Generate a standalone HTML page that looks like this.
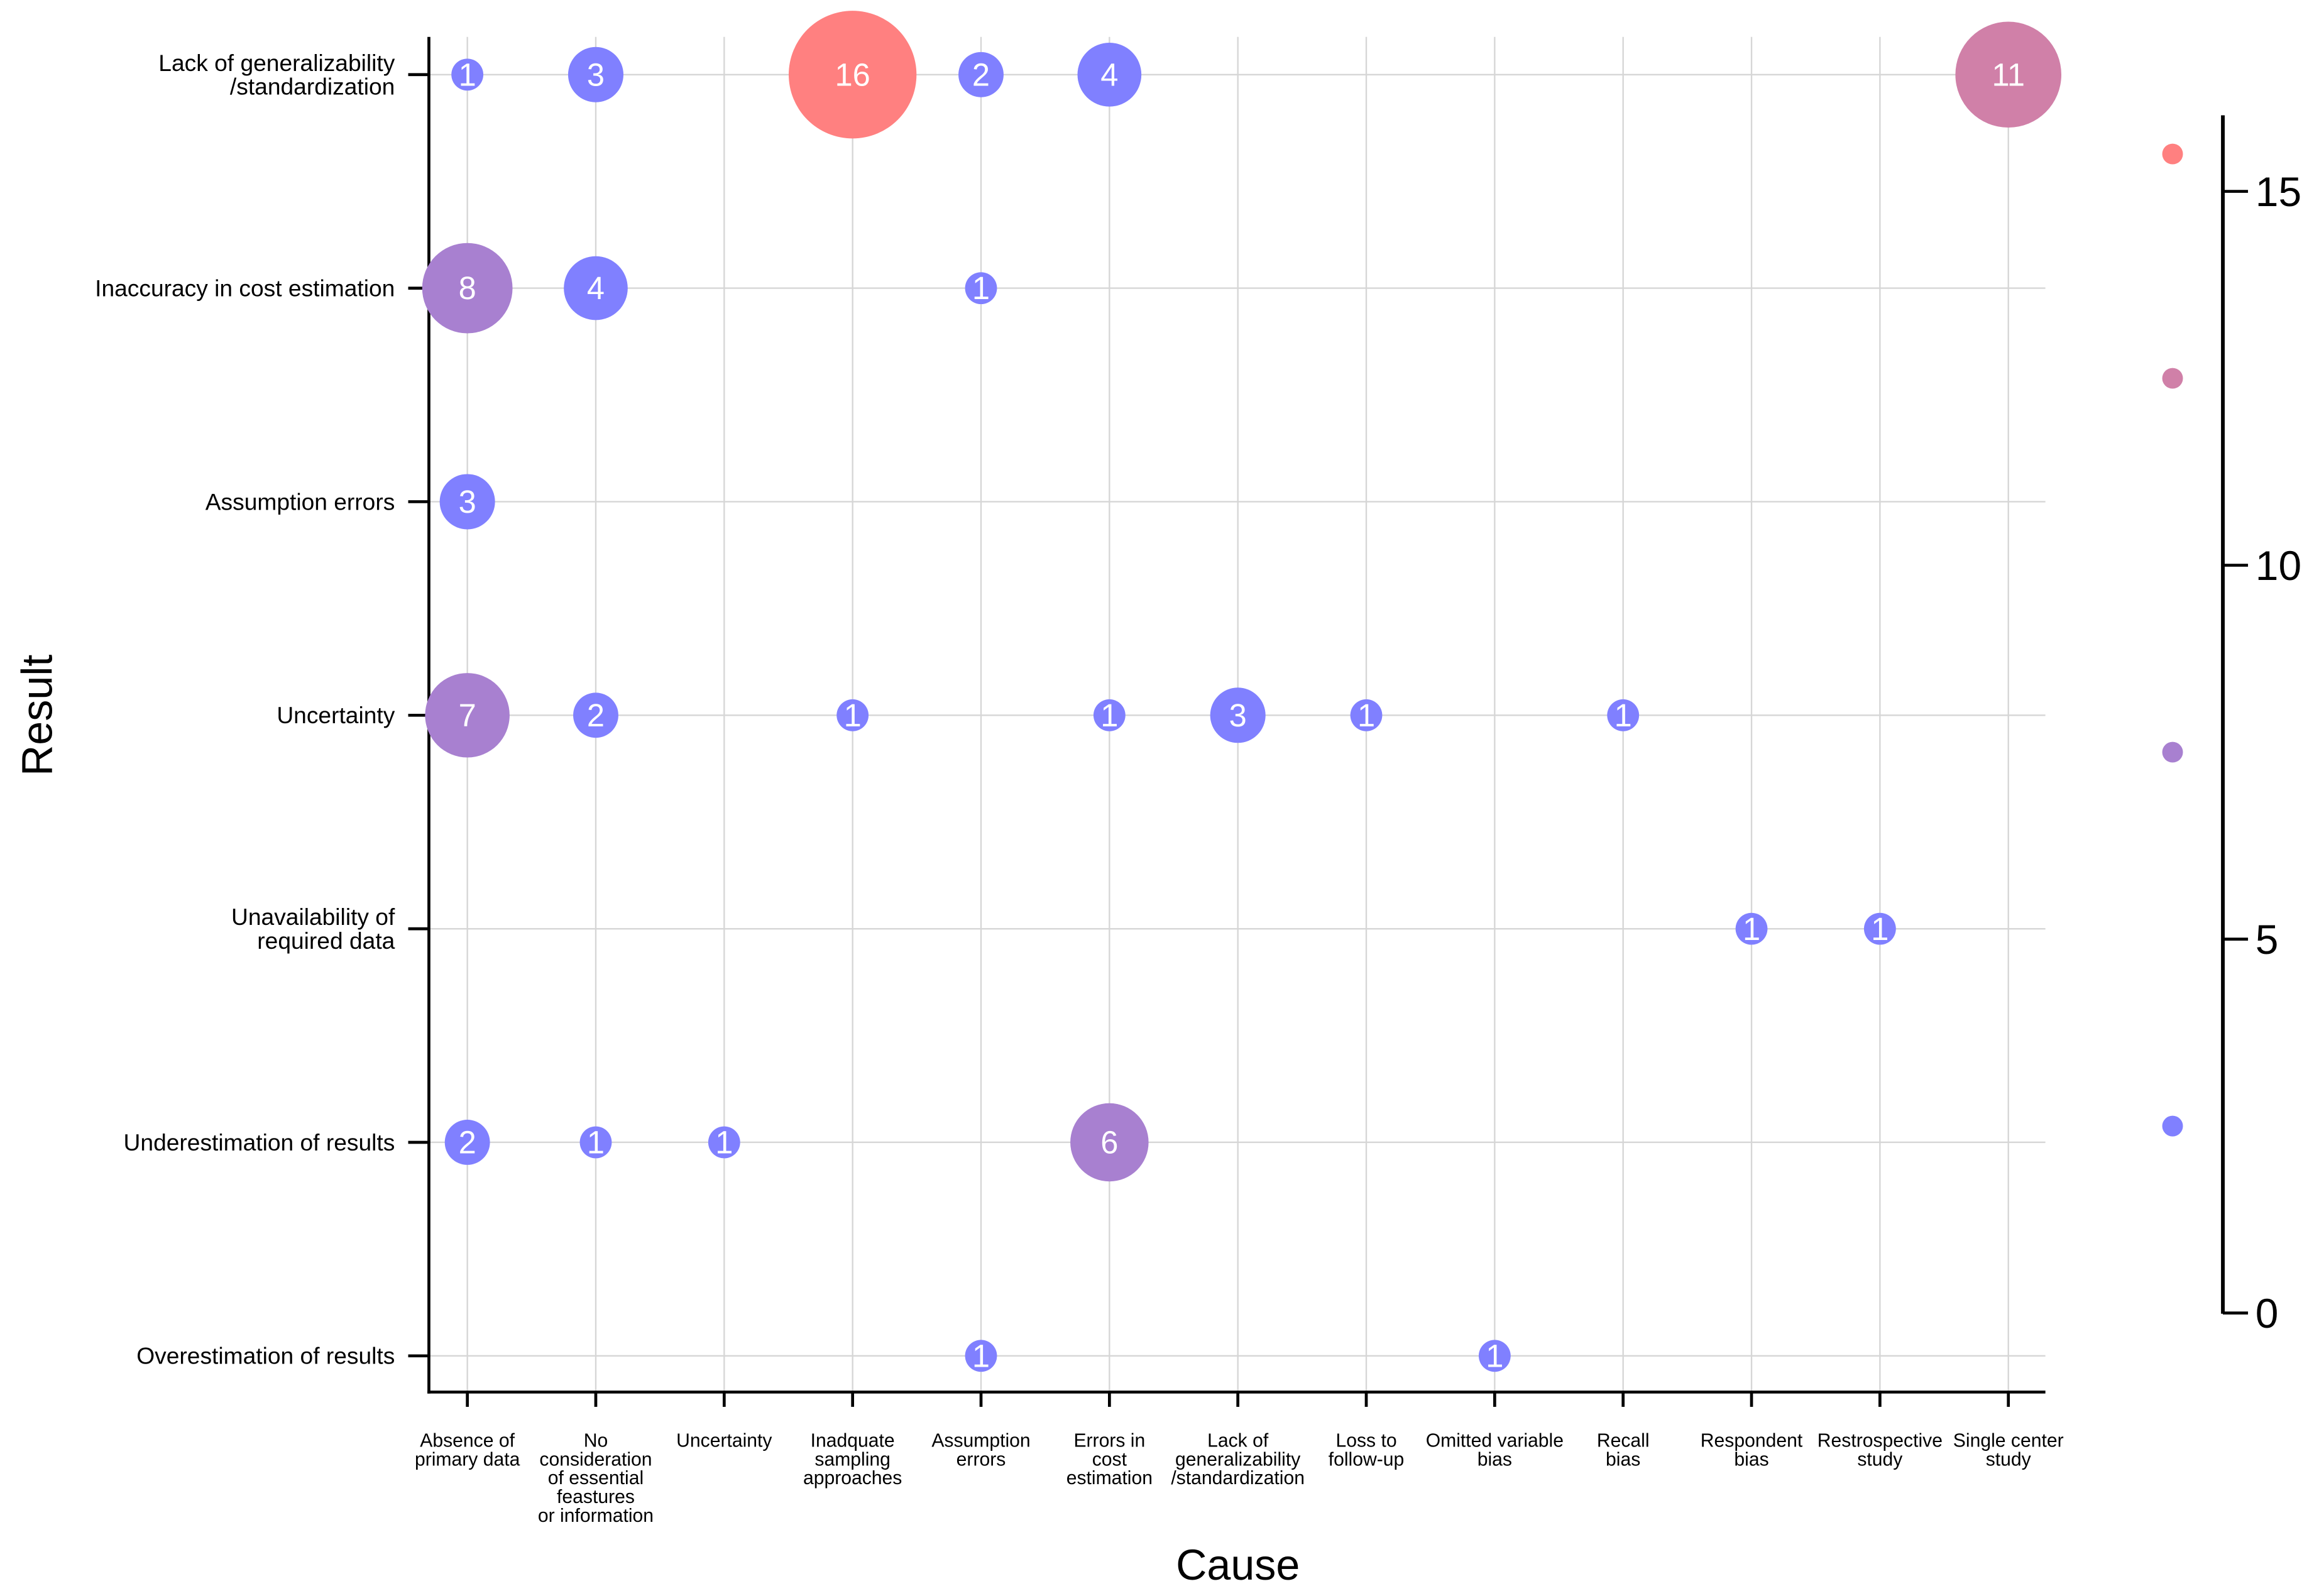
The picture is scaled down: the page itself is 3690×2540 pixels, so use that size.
<!DOCTYPE html>
<html><head><meta charset="utf-8"><style>
html,body{margin:0;padding:0;background:#fff;}
svg{display:block;font-family:"Liberation Sans",Arial,sans-serif;}
</style></head><body>
<svg id="chart" width="3690" height="2540" viewBox="0 0 1568 1080" preserveAspectRatio="none" xmlns="http://www.w3.org/2000/svg">
<g id="grid"></g>
<g id="axes"></g>
<g id="bubbles"></g>
<g id="legend"></g>
<text x="837" y="1069" font-size="29" text-anchor="middle">Cause</text>
<text transform="translate(35,484) rotate(-90)" font-size="29" text-anchor="middle">Result</text>
</svg>
<script>
const causes = [["Absence of","primary data"],["No","consideration","of essential","feastures","or information"],["Uncertainty"],["Inadquate","sampling","approaches"],["Assumption","errors"],["Errors in","cost","estimation"],["Lack of","generalizability","/standardization"],["Loss to","follow-up"],["Omitted variable","bias"],["Recall","bias"],["Respondent","bias"],["Restrospective","study"],["Single center","study"]];
const results = [["Lack of generalizability","/standardization"],["Inaccuracy in cost estimation"],["Assumption errors"],["Uncertainty"],["Unavailability of","required data"],["Underestimation of results"],["Overestimation of results"]];
const pointCause = [0,1,3,4,5,12, 0,1,4, 0, 0,1,3,5,6,7,9, 10,11, 0,1,2,5, 4,8];
const pointResult = [0,0,0,0,0,0, 1,1,1, 2, 3,3,3,3,3,3,3, 4,4, 5,5,5,5, 6,6];
const pointValue = [1,3,16,2,4,11, 8,4,1, 3, 7,2,1,1,3,1,1, 1,1, 2,1,1,6, 1,1];
const legendValues = [15.5,12.5,7.5,2.5];
const legendTicks = [0,5,10,15];

const NS="http://www.w3.org/2000/svg";
function mk(tag,attrs,parent,text){const e=document.createElementNS(NS,tag);for(const k in attrs)e.setAttribute(k,attrs[k]);if(text!==undefined)e.textContent=text;parent.appendChild(e);return e;}
const xS=i=>316+i*86.83;
const yS=j=>50.5+j*144.5;
const rS=v=>10.8*Math.sqrt(v);
const colorOf=v=>v>=15?"#ff8080":v>=10?"#d080a8":v>=5?"#a880d0":"#8080ff";
const lgY=v=>888.5-v*50.6;
const grid=document.getElementById('grid'),axes=document.getElementById('axes'),bub=document.getElementById('bubbles'),leg=document.getElementById('legend');

causes.forEach((c,i)=>{
  const l=mk('line',{x1:xS(i),x2:xS(i),y1:25,y2:942,stroke:"#d6d6d6","stroke-width":1},grid);
  
  
  const t=mk('line',{x1:xS(i),x2:xS(i),y1:942,y2:952,stroke:"#000","stroke-width":2},axes);
  
  
  const tx=mk('text',{x:xS(i),y:979,"font-size":12.8,"text-anchor":"middle"},axes);
  
  
  c.forEach((s,k)=>mk('tspan',{x:xS(i),dy:k?12.7:0},tx,s));
});
results.forEach((r,j)=>{
  const l=mk('line',{x1:290,x2:1383,y1:yS(j),y2:yS(j),stroke:"#d6d6d6","stroke-width":1},grid);
  
  
  const t=mk('line',{x1:276,x2:290,y1:yS(j),y2:yS(j),stroke:"#000","stroke-width":2},axes);
  
  
  const n=r.length;
  const tx=mk('text',{x:267,y:yS(j)+5.5-(n-1)*8,"font-size":15.8,"text-anchor":"end"},axes);
  
  
  r.forEach((s,k)=>mk('tspan',{x:267,dy:k?16:0},tx,s));
});
const ya=mk('line',{x1:290,x2:290,y1:25,y2:943,stroke:"#000","stroke-width":2},axes);


const xa=mk('line',{x1:289,x2:1383,y1:942,y2:942,stroke:"#000","stroke-width":2},axes);



pointValue.forEach((v,p)=>{
  const cx=xS(pointCause[p]),cy=yS(pointResult[p]);
  const c=mk('circle',{cx:cx,cy:cy,r:rS(v),fill:colorOf(v)},bub);
  
  
  const t=mk('text',{x:cx,y:cy+7.5,"font-size":21.5,fill:"#fff","text-anchor":"middle"},bub,String(v));
  
  
});

const la=mk('line',{x1:1503,x2:1503,y1:78,y2:889,stroke:"#000","stroke-width":2.5},leg);


legendTicks.forEach(v=>{
  const t=mk('line',{x1:1503,x2:1520,y1:lgY(v),y2:lgY(v),stroke:"#000","stroke-width":2},leg);
  
  
  const tx=mk('text',{x:1525,y:lgY(v)+10,"font-size":28},leg,String(v));
  
  
});
legendValues.forEach(v=>{
  const c=mk('circle',{cx:1469,cy:lgY(v),r:7,fill:colorOf(v)},leg);
  
  
});
</script>
</body></html>
